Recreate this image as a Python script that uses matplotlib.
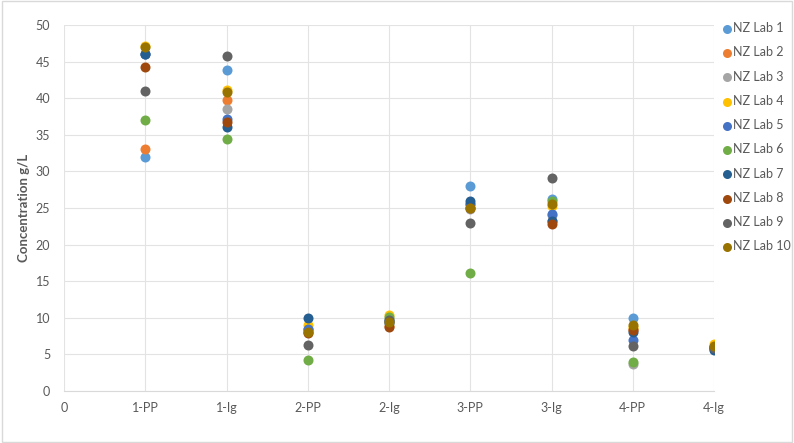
import matplotlib.pyplot as plt
from matplotlib.patches import Rectangle

plt.rcParams['font.family'] = ['Lato', 'DejaVu Sans']

categories = ["1-PP", "1-Ig", "2-PP", "2-Ig", "3-PP", "3-Ig", "4-PP", "4-Ig"]
labs = ["NZ Lab %d" % i for i in range(1, 11)]
colors = ["#5B9BD5", "#ED7D31", "#A5A5A5", "#FFC000", "#4472C4",
          "#70AD47", "#255E91", "#9E480E", "#636363", "#997300"]

lab1 = [32.0, 43.8, 8.5, 9.6, 28.0, 26.2, 10.0, 6.0]
lab2 = [33.0, 39.7, 8.0, 8.9, 25.5, 23.2, 8.5, 6.0]
lab3 = [46.0, 38.5, 8.3, 9.8, 24.8, 24.0, 3.7, 6.0]
lab4 = [47.1, 41.1, 9.0, 10.4, 25.2, 25.3, 8.8, 6.4]
lab5 = [46.0, 37.2, 8.5, 9.5, 25.5, 24.2, 7.0, 5.7]
lab6 = [37.0, 34.4, 4.2, 10.1, 16.1, 25.9, 4.0, 6.0]
lab7 = [46.0, 36.1, 10.0, 9.3, 26.0, 23.2, 8.0, 5.6]
lab8 = [44.2, 36.7, 7.9, 8.8, 25.0, 22.8, 8.4, 6.0]
lab9 = [41.0, 45.7, 6.3, 9.7, 23.0, 29.1, 6.2, 5.9]
lab10 = [47.0, 40.9, 8.0, 9.4, 25.0, 25.6, 9.0, 6.2]
values = [lab1, lab2, lab3, lab4, lab5, lab6, lab7, lab8, lab9, lab10]

fig = plt.figure(figsize=(7.94, 4.43), dpi=100)
ax = fig.add_axes([64 / 794, 52 / 443, 650 / 794, 366 / 443])
fig.patches.append(Rectangle((0.002, 0.003), 0.996, 0.994, transform=fig.transFigure,
                             fill=False, edgecolor="#D9D9D9", lw=1))

xs = list(range(1, len(categories) + 1))
for name, col, vals in zip(labs, colors, values):
    ax.scatter(xs, vals, s=52, color=col, label=name, zorder=3, linewidths=0)

ax.set_xlim(0, 8)
ax.set_ylim(0, 50)
ax.set_xticks([0] + xs)
ax.set_xticklabels(["0"] + categories)
ax.set_yticks(range(0, 51, 5))
ax.grid(True, color="#E3E3E3", lw=0.8, zorder=0)
for s in ["top", "right", "left"]:
    ax.spines[s].set_visible(False)
ax.spines["bottom"].set_color("#D9D9D9")
ax.tick_params(length=0, colors="#595959", labelsize=9, pad=8)
ax.tick_params(axis="y", pad=10)
ax.set_ylabel("Concentration g/L", color="#595959", fontsize=9.5, fontweight="bold")

ax.legend(loc="upper left", bbox_to_anchor=(1.0, 1.025), frameon=False,
          fontsize=9, labelcolor="#595959", handletextpad=0.05,
          labelspacing=0.98, markerscale=0.9, borderaxespad=0.1, handlelength=1.0)

fig.savefig("out.png", dpi=100)
